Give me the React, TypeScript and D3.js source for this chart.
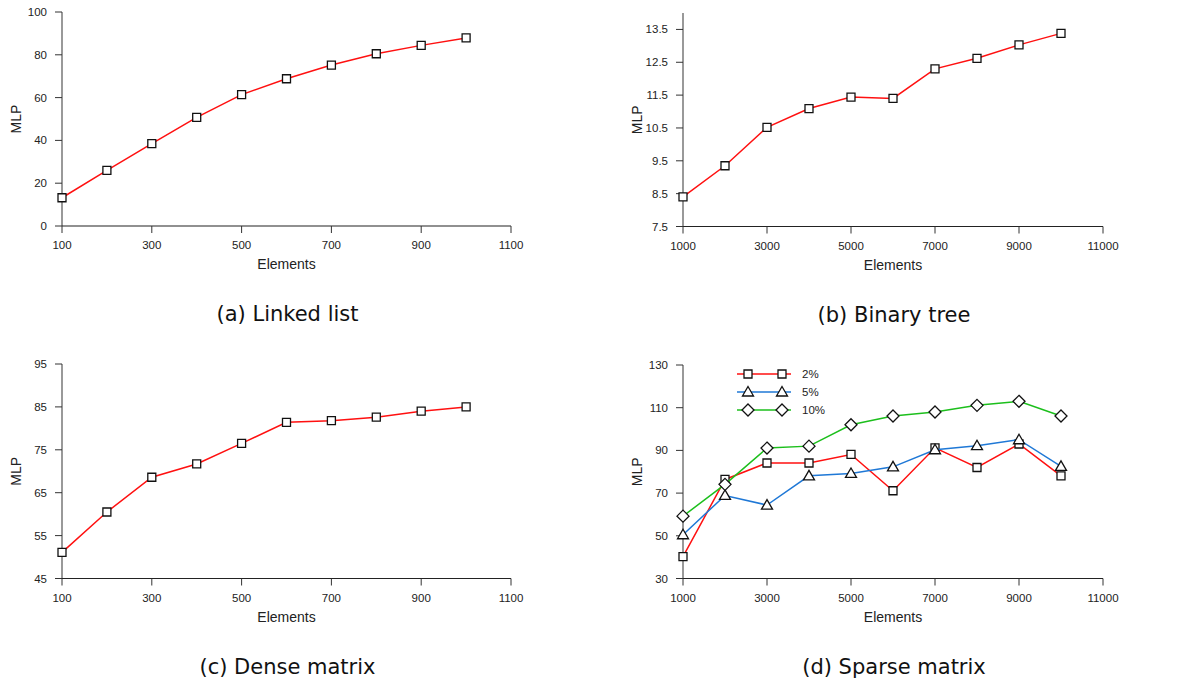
import { useEffect, useRef } from 'react';
import * as d3 from 'd3';

// x values
const elementsSmall = [100, 200, 300, 400, 500, 600, 700, 800, 900, 1000];
const elementsLarge = [1000, 2000, 3000, 4000, 5000, 6000, 7000, 8000, 9000, 10000];
const smallTicks = [100, 300, 500, 700, 900, 1100];
const largeTicks = [1000, 3000, 5000, 7000, 9000, 11000];

// series values (MLP)
const linkedList = [13.2, 26.0, 38.5, 50.8, 61.4, 68.8, 75.2, 80.5, 84.4, 87.9];
const binaryTree = [8.4, 9.35, 10.52, 11.09, 11.44, 11.4, 12.3, 12.62, 13.03, 13.38];
const denseMatrix = [51.1, 60.5, 68.6, 71.7, 76.5, 81.4, 81.8, 82.6, 84.0, 85.0];
const sparse2 = [40.2, 76.4, 84.1, 84.1, 88.1, 71.1, 91.2, 82.0, 93.0, 78.1];
const sparse5 = [50.5, 68.9, 64.4, 78.1, 79.2, 82.3, 90.3, 92.2, 95.0, 82.5];
const sparse10 = [59.2, 74.1, 91.1, 92.0, 102.0, 106.1, 108.0, 111.1, 113.0, 106.1];

const ticksA = [0, 20, 40, 60, 80, 100];
const ticksB = [7.5, 8.5, 9.5, 10.5, 11.5, 12.5, 13.5];
const ticksC = [45, 55, 65, 75, 85, 95];
const ticksD = [30, 50, 70, 90, 110, 130];

const sparseLabels = ['2%', '5%', '10%'];

const RED = '#ff1010';
const BLUE = '#1f78d6';
const GREEN = '#1cbf1c';

const tickFont = '"Liberation Sans", Arial, sans-serif';
const captionFont = '"DejaVu Sans", sans-serif';

const markerPath = (shape) => {
  if (shape === 'square') return 'M-4,-4H4V4H-4Z';
  if (shape === 'triangle') return 'M0,-5.5L5.5,4L-5.5,4Z';
  return 'M0,-6L6,0L0,6L-6,0Z';
};

const panels = [
  {
    caption: '(a) Linked list',
    left: 62, right: 511, top: 12, bottom: 226,
    xDomain: [100, 1100], xTicks: smallTicks, xs: elementsSmall,
    yDomain: [0, 100], yTicks: ticksA, fmt: d3.format('d'),
    series: [{ values: linkedList, color: RED, shape: 'square' }],
    legend: false,
  },
  {
    caption: '(b) Binary tree',
    left: 683, right: 1103, top: 13, bottom: 226.5,
    xDomain: [1000, 11000], xTicks: largeTicks, xs: elementsLarge,
    yDomain: [7.5, 14], yTicks: ticksB, fmt: d3.format('.1f'),
    series: [{ values: binaryTree, color: RED, shape: 'square' }],
    legend: false,
  },
  {
    caption: '(c) Dense matrix',
    left: 62, right: 511, top: 364, bottom: 578.5,
    xDomain: [100, 1100], xTicks: smallTicks, xs: elementsSmall,
    yDomain: [45, 95], yTicks: ticksC, fmt: d3.format('d'),
    series: [{ values: denseMatrix, color: RED, shape: 'square' }],
    legend: false,
  },
  {
    caption: '(d) Sparse matrix',
    left: 683, right: 1103, top: 365, bottom: 578.5,
    xDomain: [1000, 11000], xTicks: largeTicks, xs: elementsLarge,
    yDomain: [30, 130], yTicks: ticksD, fmt: d3.format('d'),
    series: [
      { values: sparse2, color: RED, shape: 'square' },
      { values: sparse5, color: BLUE, shape: 'triangle' },
      { values: sparse10, color: GREEN, shape: 'diamond' },
    ],
    legend: true,
  },
];

const App = () => {
  const svgRef = useRef(null);

  useEffect(() => {
    const svg = d3.select(svgRef.current);
    svg.selectAll('*').remove();

    panels.forEach((p) => {
      const x = d3.scaleLinear().domain(p.xDomain).range([p.left, p.right]);
      const y = d3.scaleLinear().domain(p.yDomain).range([p.bottom, p.top]);
      const g = svg.append('g');

      // y axis
      g.append('line')
        .attr('x1', p.left).attr('x2', p.left)
        .attr('y1', p.top).attr('y2', p.bottom)
        .attr('stroke', '#555').attr('stroke-width', 1.2);
      p.yTicks.forEach((t) => {
        g.append('line')
          .attr('x1', p.left - 7).attr('x2', p.left)
          .attr('y1', y(t)).attr('y2', y(t))
          .attr('stroke', '#333').attr('stroke-width', 1);
        g.append('text')
          .attr('x', p.left - 15).attr('y', y(t))
          .attr('dy', '0.35em')
          .attr('text-anchor', 'end')
          .style('font-family', tickFont).style('font-size', '11.5px')
          .attr('fill', '#222')
          .text(p.fmt(t));
      });

      // x axis
      g.append('line')
        .attr('x1', p.left).attr('x2', p.right)
        .attr('y1', p.bottom).attr('y2', p.bottom)
        .attr('stroke', '#222').attr('stroke-width', 1.2);
      p.xTicks.forEach((t) => {
        g.append('line')
          .attr('x1', x(t)).attr('x2', x(t))
          .attr('y1', p.bottom).attr('y2', p.bottom + 7)
          .attr('stroke', '#333').attr('stroke-width', 1);
        g.append('text')
          .attr('x', x(t)).attr('y', p.bottom + 23)
          .attr('text-anchor', 'middle')
          .style('font-family', tickFont).style('font-size', '11.5px')
          .attr('fill', '#222')
          .text(t);
      });

      // axis titles
      g.append('text')
        .attr('x', (p.left + p.right) / 2).attr('y', p.bottom + 43)
        .attr('text-anchor', 'middle')
        .style('font-family', tickFont).style('font-size', '14px')
        .attr('fill', '#222')
        .text('Elements');
      g.append('text')
        .attr('transform', `translate(${p.left - 46},${(p.top + p.bottom) / 2}) rotate(-90)`)
        .attr('dy', '0.35em')
        .attr('text-anchor', 'middle')
        .style('font-family', tickFont).style('font-size', '14px')
        .attr('fill', '#222')
        .text('MLP');

      // series
      const line = d3.line().x((d) => x(d[0])).y((d) => y(d[1]));
      p.series.forEach((s) => {
        const pts = p.xs.map((v, i) => [v, s.values[i]]);
        g.append('path')
          .attr('d', line(pts))
          .attr('fill', 'none')
          .attr('stroke', s.color)
          .attr('stroke-width', 1.5);
        pts.forEach((d) => {
          g.append('path')
            .attr('d', markerPath(s.shape))
            .attr('transform', `translate(${x(d[0])},${y(d[1])})`)
            .attr('fill', 'white')
            .attr('stroke', '#111')
            .attr('stroke-width', 1.3);
        });
      });

      // legend
      if (p.legend) {
        p.series.forEach((s, i) => {
          const ly = p.top + 9 + i * 18;
          g.append('line')
            .attr('x1', 737).attr('x2', 791)
            .attr('y1', ly).attr('y2', ly)
            .attr('stroke', s.color).attr('stroke-width', 1.5);
          [748, 782].forEach((mx) => {
            g.append('path')
              .attr('d', markerPath(s.shape))
              .attr('transform', `translate(${mx},${ly})`)
              .attr('fill', 'white')
              .attr('stroke', '#111')
              .attr('stroke-width', 1.3);
          });
          g.append('text')
            .attr('x', 802).attr('y', ly)
            .attr('dy', '0.35em')
            .style('font-family', tickFont).style('font-size', '11.5px')
            .attr('fill', '#222')
            .text(sparseLabels[i]);
        });
      }

      // caption
      g.append('text')
        .attr('x', (p.left + p.right) / 2 + 1).attr('y', p.bottom + 95)
        .attr('text-anchor', 'middle')
        .style('font-family', captionFont).style('font-size', '21px')
        .attr('fill', '#111')
        .text(p.caption);
    });
  }, []);

  return (
    <svg
      ref={svgRef}
      width={1196}
      height={680}
      style={{ position: 'absolute', left: 0, top: 0, background: 'white' }}
    />
  );
};

export default App;
